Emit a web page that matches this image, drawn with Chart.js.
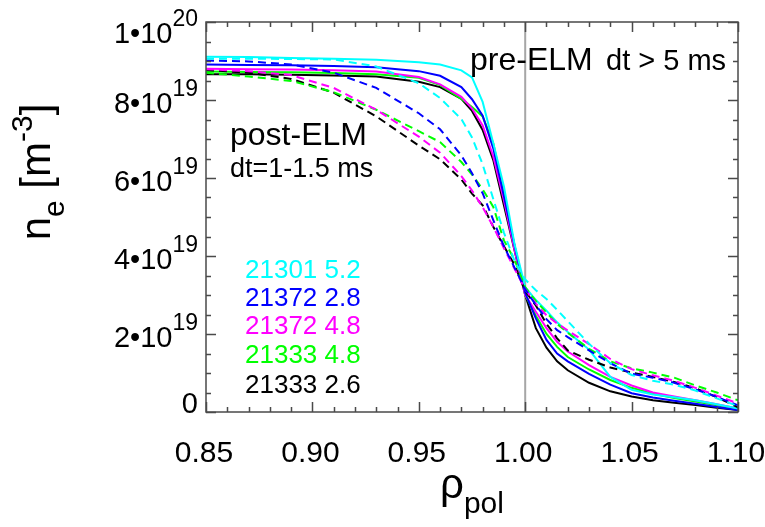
<!DOCTYPE html>
<html>
<head>
<meta charset="utf-8">
<title>ne profiles pre/post ELM</title>
<script src="https://cdn.jsdelivr.net/npm/chart.js@4.4.1/dist/chart.umd.min.js"></script>
<style>
  body { margin: 0; background: #fff; }
  canvas { display: block; }
</style>
</head>
<body>
<canvas id="myChart" width="765" height="527"></canvas>
<script>
'use strict'

// DATA - density in units of 1e19 m^-3
const rho = [0.85, 0.87, 0.89, 0.91, 0.93, 0.95, 0.96, 0.97, 0.975, 0.98, 0.985, 0.99, 0.995,
  1.00, 1.005, 1.01, 1.015, 1.02, 1.03, 1.04, 1.05, 1.06, 1.07, 1.08, 1.09, 1.10];

// pre-ELM, dt > 5 ms (solid)
const pre21301_52 = [9.11, 9.10, 9.08, 9.06, 9.03, 8.97, 8.91, 8.76, 8.58, 7.95, 6.89, 5.78, 4.30,
  3.20, 2.87, 2.60, 2.30, 2.05, 1.60, 0.90, 0.57, 0.45, 0.38, 0.30, 0.20, 0.09];
const pre21372_28 = [8.91, 8.90, 8.89, 8.87, 8.84, 8.74, 8.62, 8.33, 8.02, 7.60, 6.76, 5.54, 4.27,
  3.05, 2.40, 1.85, 1.50, 1.30, 0.98, 0.70, 0.48, 0.37, 0.29, 0.21, 0.13, 0.05];
const pre21372_48 = [8.80, 8.79, 8.78, 8.76, 8.73, 8.59, 8.40, 8.08, 7.78, 7.35, 6.55, 5.43, 4.15,
  3.00, 2.57, 2.15, 1.80, 1.55, 1.20, 0.90, 0.68, 0.50, 0.40, 0.30, 0.20, 0.09];
const pre21333_48 = [8.73, 8.72, 8.71, 8.69, 8.66, 8.57, 8.38, 8.03, 7.82, 7.58, 6.89, 5.60, 4.25,
  3.00, 2.47, 2.00, 1.67, 1.41, 1.09, 0.82, 0.62, 0.47, 0.36, 0.27, 0.17, 0.07];
const pre21333_26 = [8.66, 8.66, 8.65, 8.63, 8.60, 8.47, 8.33, 8.03, 7.72, 7.23, 6.46, 5.30, 4.14,
  3.00, 2.15, 1.65, 1.30, 1.07, 0.75, 0.53, 0.40, 0.30, 0.24, 0.18, 0.11, 0.05];

// post-ELM, dt = 1-1.5 ms (dashed)
const post21301_52 = [9.06, 9.06, 9.05, 9.04, 8.86, 8.43, 8.05, 7.51, 7.04, 6.35, 5.46, 4.60, 3.87,
  3.40, 3.12, 2.90, 2.62, 2.33, 1.75, 1.25, 0.95, 0.80, 0.70, 0.55, 0.35, 0.15];
const post21372_28 = [9.01, 8.99, 8.91, 8.70, 8.31, 7.66, 7.25, 6.58, 6.12, 5.61, 4.92, 4.25, 3.70,
  3.15, 2.74, 2.38, 2.10, 1.92, 1.58, 1.25, 0.98, 0.88, 0.75, 0.58, 0.39, 0.17];
const post21372_48 = [8.79, 8.74, 8.64, 8.31, 7.75, 7.06, 6.65, 6.05, 5.68, 5.25, 4.75, 4.20, 3.67,
  3.15, 2.78, 2.48, 2.27, 2.09, 1.74, 1.36, 1.10, 0.94, 0.80, 0.62, 0.42, 0.22];
const post21333_48 = [8.70, 8.60, 8.49, 8.20, 7.75, 7.20, 6.92, 6.41, 6.09, 5.71, 5.26, 4.40, 3.90,
  3.20, 2.85, 2.55, 2.26, 2.03, 1.62, 1.30, 1.12, 1.01, 0.88, 0.68, 0.50, 0.30];
const post21333_26 = [8.77, 8.70, 8.54, 8.19, 7.58, 6.83, 6.48, 5.96, 5.60, 5.30, 4.75, 4.25, 3.77,
  3.10, 2.73, 2.26, 1.89, 1.58, 1.34, 1.14, 1.01, 0.90, 0.77, 0.61, 0.38, 0.12];

const shotLabels = ['21301 5.2', '21372 2.8', '21372 4.8', '21333 4.8', '21333 2.6'];
const shotColors = ['#00ffff', '#0000ff', '#ff00ff', '#00ff00', '#000000'];
const preSeries = [pre21301_52, pre21372_28, pre21372_48, pre21333_48, pre21333_26];
const postSeries = [post21301_52, post21372_28, post21372_48, post21333_48, post21333_26];

const xTicks = [0.85, 0.90, 0.95, 1.00, 1.05, 1.10];
const xTickLabels = ['0.85', '0.90', '0.95', '1.00', '1.05', '1.10'];
const yTicks = [0, 2, 4, 6, 8, 10];
const yTickBase = ['0', '2•10', '4•10', '6•10', '8•10', '1•10'];
const yTickExp = ['', '19', '19', '19', '19', '20'];
const separatrix = 1.00;

const FONT = "'Liberation Sans', Arial, Helvetica, sans-serif";

function makeSet(values, color, dashed) {
  return {
    data: rho.map((r, i) => ({ x: r, y: values[i] })),
    borderColor: color,
    borderWidth: 2,
    borderDash: dashed ? [8, 5] : [],
    showLine: true,
    pointRadius: 0,
    tension: 0,
    fill: false
  };
}

// draws a string made of pieces with own size and vertical shift (sub/superscripts)
function drawPieces(ctx, pieces, x, y, align) {
  let total = 0;
  for (let i = 0; i < pieces.length; i++) {
    ctx.font = pieces[i].size + 'px ' + FONT;
    pieces[i].w = ctx.measureText(pieces[i].t).width;
    total += pieces[i].w;
  }
  let start = x;
  if (align === 'center') start = x - total / 2;
  if (align === 'right') start = x - total;
  ctx.textAlign = 'left';
  ctx.textBaseline = 'alphabetic';
  for (let i = 0; i < pieces.length; i++) {
    ctx.font = pieces[i].size + 'px ' + FONT;
    ctx.fillText(pieces[i].t, start, y + (pieces[i].dy || 0));
    start += pieces[i].w;
  }
}

const framePlugin = {
  id: 'frame',
  beforeDatasetsDraw(chart) {
    const ctx = chart.ctx;
    const a = chart.chartArea;
    const px = chart.scales.x.getPixelForValue(separatrix);
    ctx.save();
    ctx.strokeStyle = '#a6a6a6';
    ctx.lineWidth = 2;
    ctx.beginPath();
    ctx.moveTo(px, a.top);
    ctx.lineTo(px, a.bottom);
    ctx.stroke();
    ctx.restore();
  },
  afterDraw(chart) {
    const ctx = chart.ctx;
    const a = chart.chartArea;
    const xs = chart.scales.x;
    const ys = chart.scales.y;
    ctx.save();

    // box
    ctx.strokeStyle = '#4a4a4a';
    ctx.lineWidth = 1.5;
    ctx.strokeRect(a.left, a.top, a.right - a.left, a.bottom - a.top);

    // inward ticks
    ctx.beginPath();
    for (let i = 0; i <= 25; i++) {
      const px = Math.round(xs.getPixelForValue(0.85 + i * 0.01)) + 0.5;
      const len = i % 5 === 0 ? 10 : 5;
      ctx.moveTo(px, a.bottom); ctx.lineTo(px, a.bottom - len);
      ctx.moveTo(px, a.top); ctx.lineTo(px, a.top + len);
    }
    for (let i = 0; i <= 20; i++) {
      const py = Math.round(ys.getPixelForValue(i * 0.5)) + 0.5;
      const len = i % 4 === 0 ? 10 : 5;
      ctx.moveTo(a.left, py); ctx.lineTo(a.left + len, py);
      ctx.moveTo(a.right, py); ctx.lineTo(a.right - len, py);
    }
    ctx.stroke();

    ctx.fillStyle = '#000';

    // x tick labels
    for (let i = 0; i < xTicks.length; i++) {
      const px = xs.getPixelForValue(xTicks[i]) - 2;
      drawPieces(ctx, [{ t: xTickLabels[i], size: 30 }], px, 462, 'center');
    }

    // y tick labels
    for (let i = 0; i < yTicks.length; i++) {
      let yc = ys.getPixelForValue(yTicks[i]) + 2;
      yc = Math.min(Math.max(yc, 32), 402);
      const pieces = [{ t: yTickBase[i], size: 29 }];
      if (yTickExp[i]) pieces.push({ t: yTickExp[i], size: 23, dy: -17 });
      drawPieces(ctx, pieces, 198, yc + 10.5, 'right');
    }

    // axis titles
    drawPieces(ctx, [{ t: 'ρ', size: 42 }, { t: 'pol', size: 30, dy: 15 }],
      (a.left + a.right) / 2, 498, 'center');
    ctx.save();
    ctx.translate(50, 172);
    ctx.rotate(-Math.PI / 2);
    drawPieces(ctx, [
      { t: 'n', size: 42 },
      { t: 'e', size: 30, dy: 14 },
      { t: ' [m', size: 42 },
      { t: '-3', size: 30, dy: -18 },
      { t: ']', size: 42 }
    ], 0, 0, 'center');
    ctx.restore();

    // annotations
    drawPieces(ctx, [{ t: 'pre-ELM', size: 32 }], 470, 70, 'left');
    drawPieces(ctx, [{ t: 'dt > 5 ms', size: 29 }], 606, 70, 'left');
    drawPieces(ctx, [{ t: 'post-ELM', size: 32 }], 230, 145, 'left');
    drawPieces(ctx, [{ t: 'dt=1-1.5 ms', size: 27 }], 230, 177, 'left');

    // shot list
    const baselines = [278, 306, 334, 363, 393];
    for (let i = 0; i < shotLabels.length; i++) {
      ctx.fillStyle = shotColors[i];
      drawPieces(ctx, [{ t: shotLabels[i], size: 26 }], 245, baselines[i], 'left');
    }
    ctx.restore();
  }
};

const datasets = [];
for (let i = 0; i < postSeries.length; i++) {
  datasets.push(makeSet(postSeries[i], shotColors[i], true));
}
for (let i = 0; i < preSeries.length; i++) {
  datasets.push(makeSet(preSeries[i], shotColors[i], false));
}

const config = {
  type: 'scatter',
  data: { datasets: datasets },
  options: {
    responsive: false,
    animation: false,
    devicePixelRatio: 1,
    layout: { padding: { left: 206, right: 27, top: 22, bottom: 115 } },
    scales: {
      x: { type: 'linear', min: 0.85, max: 1.10, display: false },
      y: { type: 'linear', min: 0, max: 10, display: false }
    },
    plugins: {
      legend: { display: false },
      tooltip: { enabled: false }
    }
  },
  plugins: [framePlugin]
};

let canvasChart = document.getElementById('myChart');
const myChart = new Chart(canvasChart, config);
</script>
</body>
</html>
